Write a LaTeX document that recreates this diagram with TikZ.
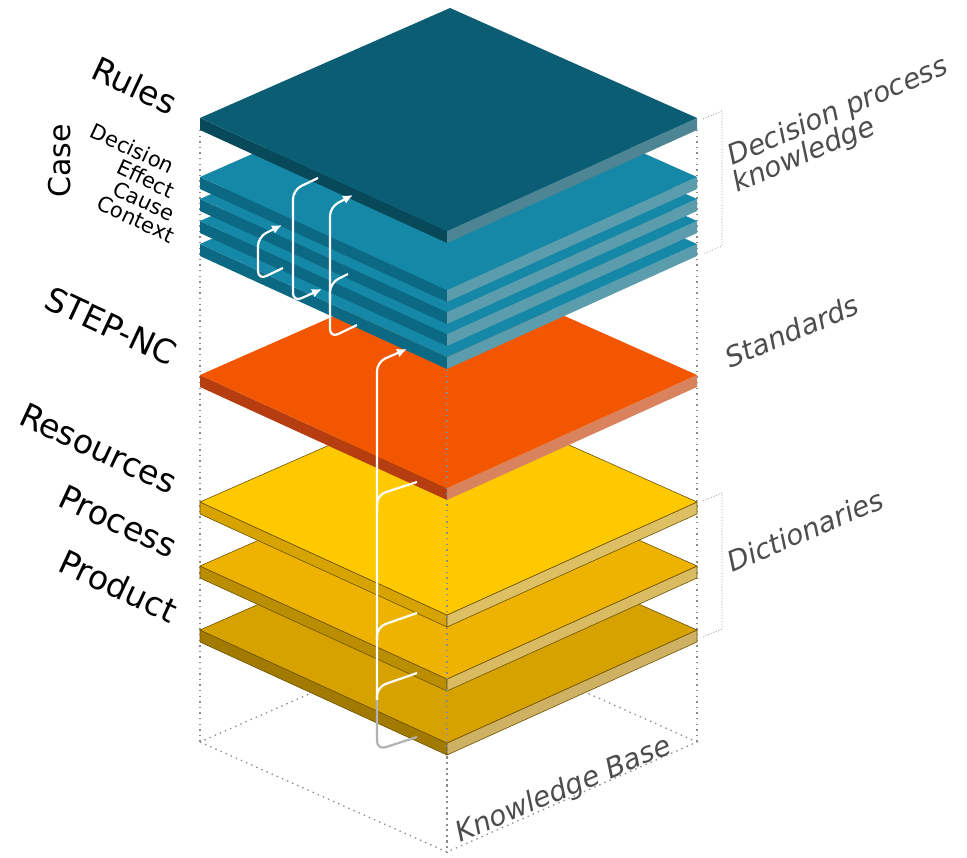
\documentclass[tikz,border=0pt]{standalone}
\usepackage{fontspec}
\setmainfont{DejaVu Sans}
\usetikzlibrary{arrows.meta}

\definecolor{rulestop}{HTML}{0A5D73}
\definecolor{rulesleft}{HTML}{074859}
\definecolor{rulesright}{HTML}{4E8594}
\definecolor{casetop}{HTML}{1488A6}
\definecolor{caseleft}{HTML}{0C6983}
\definecolor{caseright}{HTML}{5B9CAD}
\definecolor{steptop}{HTML}{F35600}
\definecolor{stepleft}{HTML}{B53D10}
\definecolor{stepright}{HTML}{D9825E}
\definecolor{restop}{HTML}{FFC900}
\definecolor{resleft}{HTML}{D6A300}
\definecolor{resright}{HTML}{DEC064}
\definecolor{proctop}{HTML}{EDB300}
\definecolor{procleft}{HTML}{BB8D00}
\definecolor{procright}{HTML}{D9BB62}
\definecolor{prodtop}{HTML}{D5A200}
\definecolor{prodleft}{HTML}{A27A00}
\definecolor{prodright}{HTML}{CFB164}
\definecolor{goldedge}{HTML}{6E5200}
\definecolor{framegray}{HTML}{8C8C8C}
\definecolor{notegray}{HTML}{4D4D4D}

\tikzset{
  leftlabel/.style={anchor=base east, rotate=-25, font=\fontsize{33}{33}\selectfont},
  caselabel/.style={anchor=base east, rotate=-25, font=\fontsize{21}{21}\selectfont},
  rightlabel/.style={anchor=base west, rotate=23, text=notegray, font=\fontsize{28}{28}\selectfont\itshape},
  boxline/.style={draw=framegray, line width=1.3pt, dash pattern=on 1.4pt off 4.2pt},
  bracketline/.style={draw=framegray!80, line width=0.8pt, dash pattern=on 1pt off 1.8pt},
  flow/.style={draw=white, line width=2.2pt, rounded corners=9pt, -{Latex[length=10pt,width=9pt]}},
  flowtail/.style={draw=white, line width=2.2pt, rounded corners=9pt},
}

\begin{document}
\begin{tikzpicture}[x=1pt, y=-1pt]
\useasboundingbox (0,0) rectangle (967,858);
% Layer shape: height of left corner, top, left face, right face, edge
\newcommand{\slab}[5]{%
  \path[fill=#3, #5] (200,#1) -- (447,#1+113) -- (447,#1+125) -- (200,#1+12) -- cycle;
  \path[fill=#4, #5] (447,#1+113) -- (697,#1) -- (697,#1+12) -- (447,#1+125) -- cycle;
  \path[fill=#2, #5] (200,#1) -- (447,#1+113) -- (697,#1) -- (450,#1-110) -- cycle;
}

% Frame of the knowledge base
\draw[boxline] (200,742) -- (447,852) -- (697,742) -- (450,632) -- cycle;
\draw[boxline] (200,130) -- (200,742);
\draw[boxline] (697,130) -- (697,742);
\draw[boxline] (447,242) -- (447,852);

% Layers, from the bottom up
\slab{630}{prodtop}{prodleft}{prodright}{draw=goldedge, line width=0.6pt}
\slab{566}{proctop}{procleft}{procright}{draw=goldedge, line width=0.6pt}
\slab{502}{restop}{resleft}{resright}{draw=goldedge, line width=0.6pt}
\slab{375}{steptop}{stepleft}{stepright}{draw=none}
\slab{244}{casetop}{caseleft}{caseright}{draw=none}
\slab{221}{casetop}{caseleft}{caseright}{draw=none}
\slab{199}{casetop}{caseleft}{caseright}{draw=none}
\slab{177}{casetop}{caseleft}{caseright}{draw=none}
\slab{118}{rulestop}{rulesleft}{rulesright}{draw=none}

% Front edge seen through the layers
\draw[boxline, draw=black!45] (447,370) -- (447,852);

% Brackets
\draw[bracketline] (703,119) -- (722,111) -- (722,246) -- (703,254);
\draw[bracketline] (703,501) -- (722,493) -- (722,629) -- (703,637);

% Flows between layers
\draw[flow] (283,268) -- (258,280) -- (258,237) -- (282,225);
\draw[flow] (318,178) -- (293,190) -- (293,302) -- (322,289);
\draw[flow] (357,325) -- (330,338) -- (330,207) -- (353,195);
\draw[flowtail] (348,274) -- (330,283) -- (330,300);
\draw[flow] (377,700) -- (377,362) -- (407,349);
\draw[flowtail] (417,482) -- (377,495) -- (377,510);
\draw[flowtail] (417,613) -- (377,627) -- (377,640);
\draw[flowtail] (417,673) -- (377,687) -- (377,700);
\draw[flowtail, draw=black!30] (417,737) -- (377,750) -- (377,700);

% Labels on the left
\node[leftlabel] (rules) at (173,117) {Rules};
\node[font=\fontsize{30}{30}\selectfont, rotate=90] (case) at (60,161) {Case};
\node[caselabel] (decision) at (173,176) {Decision};
\node[caselabel] (effect) at (173,200) {Effect};
\node[caselabel] (cause) at (173,223) {Cause};
\node[caselabel] (context) at (173,245) {Context};
\node[leftlabel] (stepnc) at (173,368) {STEP-NC};
\node[leftlabel] (resources) at (173,496) {Resources};
\node[leftlabel] (process) at (173,560) {Process};
\node[leftlabel] (product) at (173,625) {Product};

% Labels on the right
\node[rightlabel] (decproc) at (729,167) {Decision process};
\node[rightlabel] (decknow) at (734,194) {knowledge};
\node[rightlabel] (standards) at (727,370) {Standards};
\node[rightlabel] (dictionaries) at (729,574) {Dictionaries};
\node[rightlabel] (kbase) at (457,844) {Knowledge Base};
\end{tikzpicture}
\end{document}
